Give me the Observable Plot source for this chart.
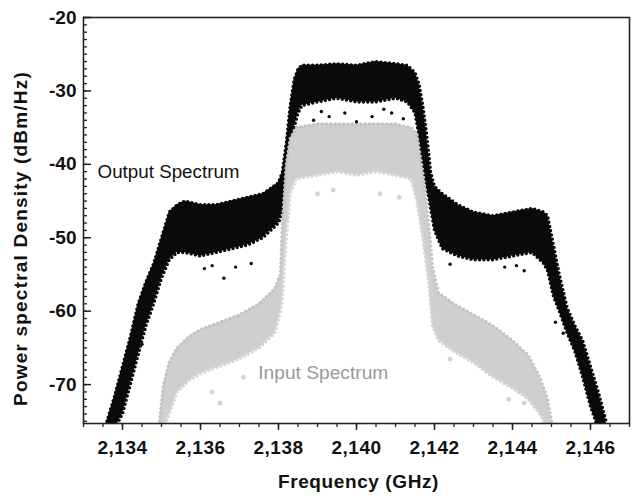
<!DOCTYPE html>
<html>
<head>
<meta charset="utf-8">
<script src="https://cdn.jsdelivr.net/npm/d3@7"></script>
<script src="https://cdn.jsdelivr.net/npm/@observablehq/plot@0.6"></script>
<style>
  body { margin: 0; background: white; }
</style>
</head>
<body>
<script>
// Output spectrum envelope (frequency GHz, lower / upper edge dBm/Hz)
const outFreq = [2133.60, 2133.80, 2134.00, 2134.20, 2134.40, 2134.60, 2134.80, 2135.00, 2135.20, 2135.40,
  2135.60, 2136.00, 2136.40, 2136.80, 2137.20, 2137.60, 2138.00, 2138.10, 2138.20, 2138.30, 2138.40, 2138.50, 2138.60,
  2139.00, 2139.50, 2140.00, 2140.50, 2141.00, 2141.30, 2141.50, 2141.60, 2141.70, 2141.80, 2141.90, 2142.00,
  2142.20, 2142.60, 2143.00, 2143.50, 2144.00, 2144.50, 2144.80, 2144.90, 2145.05, 2145.20, 2145.40, 2145.60,
  2145.80, 2146.00, 2146.20, 2146.40];
const outHigh = [-75.0, -71.5, -67.5, -63.5, -59.0, -56.0, -53.5, -50.0, -46.5, -45.5,
  -45.0, -45.5, -45.5, -45.0, -44.5, -44.0, -42.5, -41.0, -37.0, -32.0, -28.5, -27.0, -26.5,
  -26.5, -26.3, -26.5, -26.0, -26.3, -26.5, -27.5, -29.0, -32.0, -36.0, -41.0, -43.0,
  -44.0, -45.5, -46.5, -47.0, -46.5, -46.0, -46.5, -47.0, -51.0, -55.0, -59.5, -62.0,
  -64.0, -67.5, -71.0, -75.0];
const outLow = [-76.0, -76.0, -74.0, -70.0, -66.0, -62.0, -59.0, -55.5, -53.0, -52.0,
  -52.0, -52.5, -52.0, -51.5, -51.0, -50.0, -48.0, -46.5, -44.0, -40.0, -35.0, -33.0, -32.0,
  -31.5, -31.0, -31.5, -31.5, -31.0, -31.5, -33.0, -36.0, -40.0, -43.0, -46.0, -49.0,
  -51.5, -52.5, -53.0, -53.0, -52.5, -52.0, -53.5, -54.5, -58.0, -60.0, -63.0, -65.5,
  -69.0, -73.0, -76.0, -76.0];

// Input spectrum envelope
const inFreq = [2134.95, 2135.05, 2135.20, 2135.40, 2135.70, 2136.00, 2136.50, 2137.00, 2137.50, 2137.90,
  2138.05, 2138.10, 2138.20, 2138.30, 2138.45, 2139.00, 2139.50, 2140.00, 2140.50, 2141.00, 2141.40,
  2141.55, 2141.70, 2141.85, 2141.95, 2142.10, 2142.50, 2143.00, 2143.50, 2144.00, 2144.40, 2144.70,
  2144.90, 2145.00];
const inHigh = [-75.0, -70.0, -67.0, -65.0, -63.5, -62.5, -61.5, -60.5, -59.0, -57.0,
  -55.0, -48.0, -40.0, -36.5, -35.0, -34.5, -34.5, -34.5, -34.5, -34.5, -35.0,
  -36.0, -41.0, -48.0, -54.0, -57.5, -59.0, -60.5, -62.0, -64.0, -66.0, -69.0,
  -72.0, -75.0];
const inLow = [-76.0, -76.0, -74.0, -71.0, -69.5, -68.5, -67.5, -66.5, -65.0, -63.0,
  -60.0, -58.0, -50.0, -44.0, -42.0, -41.5, -41.0, -41.5, -41.0, -41.5, -42.0,
  -45.0, -50.0, -56.0, -62.0, -64.0, -65.5, -67.0, -69.0, -70.5, -72.0, -74.0,
  -76.0, -76.0];

// Scattered points outside the dense bands
const outDotF = [2138.9, 2139.3, 2139.7, 2140.0, 2140.4, 2140.9, 2141.2, 2139.1, 2140.7,
  2136.3, 2136.6, 2136.9, 2137.3, 2136.1, 2144.1, 2144.3, 2143.8, 2142.4, 2145.1, 2145.3, 2134.5];
const outDotP = [-34.0, -33.5, -33.0, -34.2, -33.5, -33.0, -33.8, -32.8, -32.5,
  -53.8, -55.5, -54.0, -53.5, -54.2, -53.8, -54.5, -54.0, -53.6, -61.5, -63.0, -64.5];
const inDotF = [2139.0, 2141.1, 2139.4, 2140.6, 2136.3, 2136.5, 2137.1, 2143.3, 2142.4, 2143.9, 2144.3];
const inDotP = [-44.0, -44.5, -43.5, -44.0, -71.0, -72.5, -69.0, -65.0, -66.5, -72.0, -72.5];

const xTicks = [2134, 2136, 2138, 2140, 2142, 2144, 2146];
const yTicks = [-70, -60, -50, -40, -30, -20];
const xMinor = d3.range(2133, 2147.001, 0.5);
const yMinor = d3.range(-75, -19.999, 1);

const xTitle = "Frequency (GHz)";
const yTitle = "Power spectral Density (dBm/Hz)";

const outBand = outFreq.map((f, i) => ({f, lo: outLow[i], hi: outHigh[i]}));
const inBand = inFreq.map((f, i) => ({f, lo: inLow[i], hi: inHigh[i]}));
const outDots = outDotF.map((f, i) => ({f, p: outDotP[i]}));
const inDots = inDotF.map((f, i) => ({f, p: inDotP[i]}));

const black = "#0a0a0a";
const gray = "#cfcfcf";
const bead = {strokeWidth: 3.4, strokeDasharray: "0 4.3", strokeLinecap: "round", clip: true};

const chart = Plot.plot({
  width: 632,
  height: 496,
  marginLeft: 83,
  marginRight: 3,
  marginTop: 17,
  marginBottom: 73,
  x: {domain: [2133, 2147], axis: null, label: null},
  y: {domain: [-75.3, -20], axis: null, label: null},
  style: {fontFamily: "'Liberation Sans', Arial, sans-serif", background: "white", color: "#111"},
  marks: [
    // output band
    Plot.areaY(outBand, {x: "f", y1: "lo", y2: "hi", fill: black, clip: true}),
    Plot.line(outBand, {x: "f", y: "hi", stroke: black, ...bead}),
    Plot.line(outBand, {x: "f", y: "lo", stroke: black, ...bead}),
    // input band
    Plot.areaY(inBand, {x: "f", y1: "lo", y2: "hi", fill: gray, clip: true}),
    Plot.line(inBand, {x: "f", y: "hi", stroke: "#c4c4c4", ...bead}),
    Plot.line(inBand, {x: "f", y: "lo", stroke: "#d6d6d6", ...bead}),
    Plot.dot(inDots, {x: "f", y: "p", r: 2, fill: "#d8d8d8", stroke: "#c0c0c0", strokeWidth: 0.6}),
    Plot.dot(outDots, {x: "f", y: "p", r: 1.7, fill: black}),
    // labels inside the plot
    Plot.text(["Output Spectrum"], {x: 2133.36, y: -41.1, textAnchor: "start", fontSize: 18.8, fill: "#111"}),
    Plot.text(["Input Spectrum"], {x: 2137.48, y: -68.4, textAnchor: "start", fontSize: 19.2, fill: "#999"}),
    // frame
    Plot.frame({stroke: "#222", strokeWidth: 1.6}),
    // axes
    Plot.axisX(xMinor, {label: null, tickSize: 4, tickFormat: () => "", stroke: "#222", strokeWidth: 1.3}),
    Plot.axisX(xTicks, {label: null, tickSize: 7, tickPadding: 10, tickFormat: d3.format(","), fontSize: 19, fontWeight: "bold", fill: "#111", stroke: "#222", strokeWidth: 1.5}),
    Plot.axisY(yMinor, {label: null, tickSize: -4, tickFormat: () => "", stroke: "#222", strokeWidth: 1.3}),
    Plot.axisY(yTicks, {label: null, tickSize: -8, tickFormat: () => "", stroke: "#222", strokeWidth: 1.5}),
    Plot.axisY(yTicks, {label: null, tickSize: 0, tickPadding: 7, tickFormat: d => String(d), fontSize: 19, fontWeight: "bold", fill: "#111"}),
    // axis titles
    Plot.text([xTitle], {frameAnchor: "bottom", textAnchor: "middle", dx: 2, dy: 64, fontSize: 19, fontWeight: "bold", fill: "#111"}),
    Plot.text([yTitle], {frameAnchor: "left", textAnchor: "middle", rotate: -90, dx: -63, dy: 18, fontSize: 19, fontWeight: "bold", fill: "#111"})
  ]
});
// slight letter spacing to match the reference's wider type
d3.select(chart).selectAll("text").each(function () {
  const t = this.textContent;
  if (t === yTitle) this.setAttribute("letter-spacing", "1.2");
  else if (t === xTitle) this.setAttribute("letter-spacing", "0.6");
  else if (xTicks.map(d3.format(",")).includes(t)) this.setAttribute("letter-spacing", "0.5");
});
document.body.appendChild(chart);
</script>
</body>
</html>
